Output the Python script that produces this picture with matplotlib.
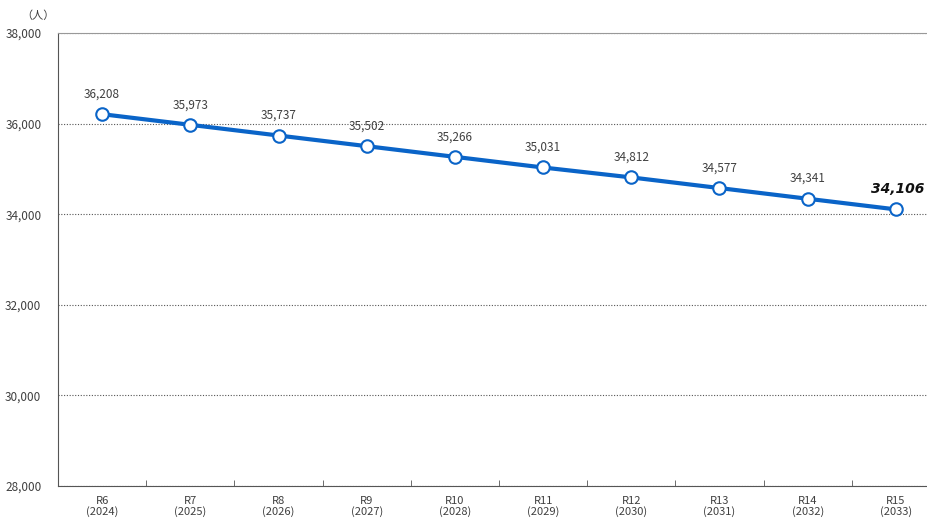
import matplotlib.pyplot as plt
from matplotlib.ticker import FuncFormatter, FixedLocator

plt.rcParams['font.family'] = ['Noto Sans CJK JP', 'DejaVu Sans']

# data
categories = ['R6\n(2024)', 'R7\n(2025)', 'R8\n(2026)', 'R9\n(2027)', 'R10\n(2028)',
              'R11\n(2029)', 'R12\n(2030)', 'R13\n(2031)', 'R14\n(2032)', 'R15\n(2033)']
population = [36208, 35973, 35737, 35502, 35266, 35031, 34812, 34577, 34341, 34106]

fig = plt.figure(figsize=(9.28, 5.21), dpi=100)
ax = fig.add_axes([58 / 928, 35 / 521, 882 / 928, 453 / 521])

x = range(len(categories))
ax.plot(x, population, color='#0a64c8', lw=3, marker='o', ms=9,
        mfc='white', mec='#0a64c8', mew=1.5, zorder=3)

# value labels
for i, v in enumerate(population):
    if i == len(population) - 1:
        ax.annotate(f'{v:,}', (i, v), xytext=(1, 12), textcoords='offset points',
                    ha='center', fontsize=10, fontweight='bold', style='italic',
                    family='DejaVu Sans', color='#111111')
    else:
        ax.annotate(f'{v:,}', (i, v), xytext=(0, 12), textcoords='offset points',
                    ha='center', fontsize=8.5, color='#404040')

ax.set_xlim(-0.5, len(categories) - 0.5)
ax.set_ylim(28000, 38000)
ax.set_yticks(range(28000, 38001, 2000))
ax.yaxis.set_major_formatter(FuncFormatter(lambda v, p: f'{int(v):,}'))
ax.grid(axis='y', color='#555555', ls=(0, (1, 1.5)), lw=0.8)
ax.set_axisbelow(True)

ax.set_xticks(list(x))
ax.set_xticklabels(categories, fontsize=8, color='#404040', linespacing=1.0)
ax.tick_params(axis='x', length=0, pad=7)
ax.xaxis.set_minor_locator(FixedLocator([i + 0.5 for i in range(len(categories) - 1)]))
ax.tick_params(axis='x', which='minor', direction='in', length=4, color='#555555')
ax.tick_params(axis='y', length=0, labelsize=8.5, labelcolor='#404040', pad=12)

for s in ['left', 'bottom']:
    ax.spines[s].set_color('#555555')
ax.spines['top'].set_color('#999999')
ax.spines['right'].set_visible(False)

fig.text(38 / 928, 1 - 16 / 521, '（人）', fontsize=8, color='#404040', ha='center', va='center')

fig.savefig('out.png', dpi=100)
